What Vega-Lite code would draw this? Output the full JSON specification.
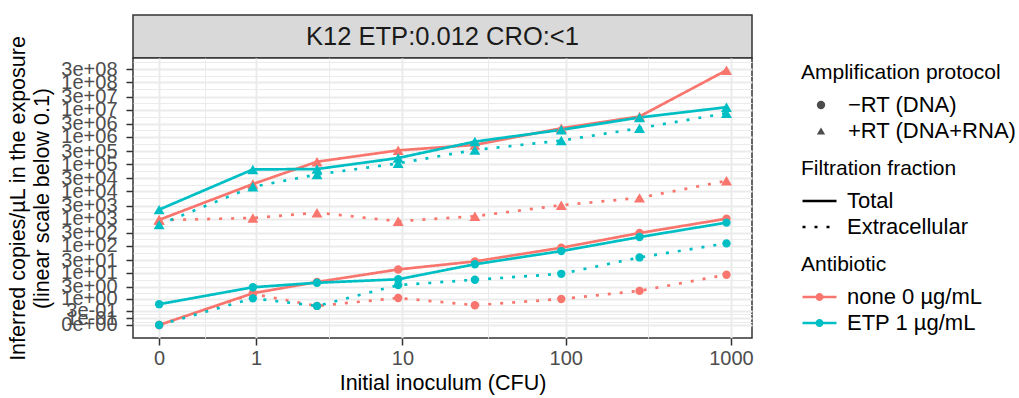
{
  "$schema": "https://vega.github.io/schema/vega-lite/v6.json",
  "background": "white",
  "padding": {"left": 7, "top": 14, "right": 0, "bottom": 0},
  "spacing": 0,
  "bounds": "flush",
  "resolve": {"legend": {"color": "independent", "shape": "independent", "strokeDash": "independent"}},
  "config": {
    "font": "Liberation Sans",
    "view": {"stroke": null},
    "axis": {"titleFontWeight": "normal", "titleColor": "black", "labelColor": "#4D4D4D"},
    "legend": {
      "titleFontWeight": "normal", "titleFontSize": 21, "labelFontSize": 22,
      "titleColor": "black", "labelColor": "black", "offset": 45, "padding": 4,
      "rowPadding": 4, "titlePadding": 13, "clipHeight": 18, "titleLimit": 400, "labelLimit": 400
    }
  },
  "datasets": {
    "d": [
      {"cfu": 0, "copies": 900, "antibiotic": "none 0 µg/mL", "fraction": "Total", "protocol": "+RT (DNA+RNA)"},
      {"cfu": 0.94, "copies": 18400, "antibiotic": "none 0 µg/mL", "fraction": "Total", "protocol": "+RT (DNA+RNA)"},
      {"cfu": 2.8, "copies": 122000, "antibiotic": "none 0 µg/mL", "fraction": "Total", "protocol": "+RT (DNA+RNA)"},
      {"cfu": 9.4, "copies": 318000, "antibiotic": "none 0 µg/mL", "fraction": "Total", "protocol": "+RT (DNA+RNA)"},
      {"cfu": 28, "copies": 504000, "antibiotic": "none 0 µg/mL", "fraction": "Total", "protocol": "+RT (DNA+RNA)"},
      {"cfu": 94, "copies": 2060000, "antibiotic": "none 0 µg/mL", "fraction": "Total", "protocol": "+RT (DNA+RNA)"},
      {"cfu": 280, "copies": 5560000, "antibiotic": "none 0 µg/mL", "fraction": "Total", "protocol": "+RT (DNA+RNA)"},
      {"cfu": 940, "copies": 276000000, "antibiotic": "none 0 µg/mL", "fraction": "Total", "protocol": "+RT (DNA+RNA)"},

      {"cfu": 0, "copies": 880, "antibiotic": "none 0 µg/mL", "fraction": "Extracellular", "protocol": "+RT (DNA+RNA)"},
      {"cfu": 0.94, "copies": 1050, "antibiotic": "none 0 µg/mL", "fraction": "Extracellular", "protocol": "+RT (DNA+RNA)"},
      {"cfu": 2.8, "copies": 1650, "antibiotic": "none 0 µg/mL", "fraction": "Extracellular", "protocol": "+RT (DNA+RNA)"},
      {"cfu": 9.4, "copies": 800, "antibiotic": "none 0 µg/mL", "fraction": "Extracellular", "protocol": "+RT (DNA+RNA)"},
      {"cfu": 28, "copies": 1220, "antibiotic": "none 0 µg/mL", "fraction": "Extracellular", "protocol": "+RT (DNA+RNA)"},
      {"cfu": 94, "copies": 3100, "antibiotic": "none 0 µg/mL", "fraction": "Extracellular", "protocol": "+RT (DNA+RNA)"},
      {"cfu": 280, "copies": 5750, "antibiotic": "none 0 µg/mL", "fraction": "Extracellular", "protocol": "+RT (DNA+RNA)"},
      {"cfu": 940, "copies": 24300, "antibiotic": "none 0 µg/mL", "fraction": "Extracellular", "protocol": "+RT (DNA+RNA)"},

      {"cfu": 0, "copies": 0, "antibiotic": "none 0 µg/mL", "fraction": "Total", "protocol": "−RT (DNA)"},
      {"cfu": 0.94, "copies": 1.7, "antibiotic": "none 0 µg/mL", "fraction": "Total", "protocol": "−RT (DNA)"},
      {"cfu": 2.8, "copies": 4.6, "antibiotic": "none 0 µg/mL", "fraction": "Total", "protocol": "−RT (DNA)"},
      {"cfu": 9.4, "copies": 13.5, "antibiotic": "none 0 µg/mL", "fraction": "Total", "protocol": "−RT (DNA)"},
      {"cfu": 28, "copies": 26.7, "antibiotic": "none 0 µg/mL", "fraction": "Total", "protocol": "−RT (DNA)"},
      {"cfu": 94, "copies": 85, "antibiotic": "none 0 µg/mL", "fraction": "Total", "protocol": "−RT (DNA)"},
      {"cfu": 280, "copies": 295, "antibiotic": "none 0 µg/mL", "fraction": "Total", "protocol": "−RT (DNA)"},
      {"cfu": 940, "copies": 990, "antibiotic": "none 0 µg/mL", "fraction": "Total", "protocol": "−RT (DNA)"},

      {"cfu": 0, "copies": 0, "antibiotic": "none 0 µg/mL", "fraction": "Extracellular", "protocol": "−RT (DNA)"},
      {"cfu": 0.94, "copies": 1.6, "antibiotic": "none 0 µg/mL", "fraction": "Extracellular", "protocol": "−RT (DNA)"},
      {"cfu": 2.8, "copies": 0.5, "antibiotic": "none 0 µg/mL", "fraction": "Extracellular", "protocol": "−RT (DNA)"},
      {"cfu": 9.4, "copies": 1.1, "antibiotic": "none 0 µg/mL", "fraction": "Extracellular", "protocol": "−RT (DNA)"},
      {"cfu": 28, "copies": 0.54, "antibiotic": "none 0 µg/mL", "fraction": "Extracellular", "protocol": "−RT (DNA)"},
      {"cfu": 94, "copies": 1.0, "antibiotic": "none 0 µg/mL", "fraction": "Extracellular", "protocol": "−RT (DNA)"},
      {"cfu": 280, "copies": 2.1, "antibiotic": "none 0 µg/mL", "fraction": "Extracellular", "protocol": "−RT (DNA)"},
      {"cfu": 940, "copies": 8.6, "antibiotic": "none 0 µg/mL", "fraction": "Extracellular", "protocol": "−RT (DNA)"},

      {"cfu": 0, "copies": 2130, "antibiotic": "ETP 1 µg/mL", "fraction": "Total", "protocol": "+RT (DNA+RNA)"},
      {"cfu": 0.94, "copies": 63500, "antibiotic": "ETP 1 µg/mL", "fraction": "Total", "protocol": "+RT (DNA+RNA)"},
      {"cfu": 2.8, "copies": 65700, "antibiotic": "ETP 1 µg/mL", "fraction": "Total", "protocol": "+RT (DNA+RNA)"},
      {"cfu": 9.4, "copies": 167000, "antibiotic": "ETP 1 µg/mL", "fraction": "Total", "protocol": "+RT (DNA+RNA)"},
      {"cfu": 28, "copies": 667000, "antibiotic": "ETP 1 µg/mL", "fraction": "Total", "protocol": "+RT (DNA+RNA)"},
      {"cfu": 94, "copies": 1800000, "antibiotic": "ETP 1 µg/mL", "fraction": "Total", "protocol": "+RT (DNA+RNA)"},
      {"cfu": 280, "copies": 5110000, "antibiotic": "ETP 1 µg/mL", "fraction": "Total", "protocol": "+RT (DNA+RNA)"},
      {"cfu": 940, "copies": 12200000, "antibiotic": "ETP 1 µg/mL", "fraction": "Total", "protocol": "+RT (DNA+RNA)"},

      {"cfu": 0, "copies": 600, "antibiotic": "ETP 1 µg/mL", "fraction": "Extracellular", "protocol": "+RT (DNA+RNA)"},
      {"cfu": 0.94, "copies": 14600, "antibiotic": "ETP 1 µg/mL", "fraction": "Extracellular", "protocol": "+RT (DNA+RNA)"},
      {"cfu": 2.8, "copies": 41500, "antibiotic": "ETP 1 µg/mL", "fraction": "Extracellular", "protocol": "+RT (DNA+RNA)"},
      {"cfu": 9.4, "copies": 106000, "antibiotic": "ETP 1 µg/mL", "fraction": "Extracellular", "protocol": "+RT (DNA+RNA)"},
      {"cfu": 28, "copies": 330000, "antibiotic": "ETP 1 µg/mL", "fraction": "Extracellular", "protocol": "+RT (DNA+RNA)"},
      {"cfu": 94, "copies": 726000, "antibiotic": "ETP 1 µg/mL", "fraction": "Extracellular", "protocol": "+RT (DNA+RNA)"},
      {"cfu": 280, "copies": 2060000, "antibiotic": "ETP 1 µg/mL", "fraction": "Extracellular", "protocol": "+RT (DNA+RNA)"},
      {"cfu": 940, "copies": 7360000, "antibiotic": "ETP 1 µg/mL", "fraction": "Extracellular", "protocol": "+RT (DNA+RNA)"},

      {"cfu": 0, "copies": 0.6, "antibiotic": "ETP 1 µg/mL", "fraction": "Total", "protocol": "−RT (DNA)"},
      {"cfu": 0.94, "copies": 2.9, "antibiotic": "ETP 1 µg/mL", "fraction": "Total", "protocol": "−RT (DNA)"},
      {"cfu": 2.8, "copies": 4.3, "antibiotic": "ETP 1 µg/mL", "fraction": "Total", "protocol": "−RT (DNA)"},
      {"cfu": 9.4, "copies": 5.8, "antibiotic": "ETP 1 µg/mL", "fraction": "Total", "protocol": "−RT (DNA)"},
      {"cfu": 28, "copies": 21, "antibiotic": "ETP 1 µg/mL", "fraction": "Total", "protocol": "−RT (DNA)"},
      {"cfu": 94, "copies": 64, "antibiotic": "ETP 1 µg/mL", "fraction": "Total", "protocol": "−RT (DNA)"},
      {"cfu": 280, "copies": 210, "antibiotic": "ETP 1 µg/mL", "fraction": "Total", "protocol": "−RT (DNA)"},
      {"cfu": 940, "copies": 710, "antibiotic": "ETP 1 µg/mL", "fraction": "Total", "protocol": "−RT (DNA)"},

      {"cfu": 0, "copies": 0, "antibiotic": "ETP 1 µg/mL", "fraction": "Extracellular", "protocol": "−RT (DNA)"},
      {"cfu": 0.94, "copies": 1.06, "antibiotic": "ETP 1 µg/mL", "fraction": "Extracellular", "protocol": "−RT (DNA)"},
      {"cfu": 2.8, "copies": 0.5, "antibiotic": "ETP 1 µg/mL", "fraction": "Extracellular", "protocol": "−RT (DNA)"},
      {"cfu": 9.4, "copies": 3.5, "antibiotic": "ETP 1 µg/mL", "fraction": "Extracellular", "protocol": "−RT (DNA)"},
      {"cfu": 28, "copies": 5.6, "antibiotic": "ETP 1 µg/mL", "fraction": "Extracellular", "protocol": "−RT (DNA)"},
      {"cfu": 94, "copies": 9.3, "antibiotic": "ETP 1 µg/mL", "fraction": "Extracellular", "protocol": "−RT (DNA)"},
      {"cfu": 280, "copies": 37.5, "antibiotic": "ETP 1 µg/mL", "fraction": "Extracellular", "protocol": "−RT (DNA)"},
      {"cfu": 940, "copies": 123, "antibiotic": "ETP 1 µg/mL", "fraction": "Extracellular", "protocol": "−RT (DNA)"}
    ]
  },
  "vconcat": [
    {
      "width": 619,
      "height": 43,
      "view": {"fill": "#D9D9D9", "stroke": "#333333", "strokeWidth": 1.5},
      "data": {"values": [{"label": "K12 ETP:0.012 CRO:<1"}]},
      "mark": {"type": "text", "fontSize": 25.5, "color": "#1A1A1A", "font": "Liberation Sans"},
      "encoding": {"text": {"field": "label"}}
    },
    {
      "width": 619,
      "height": 280,
      "view": {"fill": "white", "stroke": "#333333", "strokeWidth": 1.5},
      "data": {"name": "d"},
      "encoding": {
        "x": {
          "field": "cfu", "type": "quantitative",
          "title": "Initial inoculum (CFU)",
          "scale": {"type": "symlog", "constant": 0.35, "domain": [-0.1535, 1341], "nice": false, "zero": false},
          "axis": {
            "values": [0, 0.3127, 1, 3.362, 10, 33.54, 100, 314.3, 1000],
            "labelExpr": "indexof([0,1,10,100,1000], datum.value) < 0 ? '' : format(datum.value, 'd')",
            "grid": true, "gridColor": "#EBEBEB",
            "gridWidth": {"condition": {"test": "indexof([0,1,10,100,1000], datum.value) < 0", "value": 1}, "value": 2},
            "tickOpacity": {"condition": {"test": "indexof([0,1,10,100,1000], datum.value) < 0", "value": 0}, "value": 1},
            "domain": false, "tickColor": "#333333", "tickWidth": 1.5, "tickSize": 7,
            "labelFontSize": 20, "labelPadding": 3, "labelFlush": false, "labelOverlap": false,
            "titleFontSize": 21.5, "titlePadding": 4
          }
        },
        "y": {
          "field": "copies", "type": "quantitative",
          "title": ["Inferred copies/µL in the exposure", "(linear scale below 0.1)"],
          "scale": {"type": "symlog", "constant": 0.125, "domain": [-0.25, 776700000], "nice": false, "zero": false},
          "axis": {
            "values": [0, 0.0427, 0.1, 0.184, 0.3, 0.5665, 1, 1.75, 3, 5.5, 10, 17.3, 30, 54.8, 100, 173, 300, 548, 1000, 1730, 3000, 5477, 10000, 17320, 30000, 54772, 100000, 173205, 300000, 547723, 1000000, 1732051, 3000000, 5477226, 10000000, 17320508, 30000000, 54772256, 100000000, 173205081, 300000000, 547722558],
            "labelExpr": "indexof([0,0.1,0.3,1,3,10,30,100,300,1000,3000,10000,30000,100000,300000,1000000,3000000,10000000,30000000,100000000,300000000], datum.value) < 0 ? '' : slice(format(datum.value, '.0e'), 0, 3) + '0' + slice(format(datum.value, '.0e'), 3)",
            "grid": true, "gridColor": "#EBEBEB",
            "gridWidth": {"condition": {"test": "indexof([0,0.1,0.3,1,3,10,30,100,300,1000,3000,10000,30000,100000,300000,1000000,3000000,10000000,30000000,100000000,300000000], datum.value) < 0", "value": 1}, "value": 2},
            "tickOpacity": {"condition": {"test": "indexof([0,0.1,0.3,1,3,10,30,100,300,1000,3000,10000,30000,100000,300000,1000000,3000000,10000000,30000000,100000000,300000000], datum.value) < 0", "value": 0}, "value": 1},
            "domain": false, "tickColor": "#333333", "tickWidth": 1.5, "tickSize": 7,
            "labelFontSize": 20, "labelPadding": 9, "labelOverlap": false, "labelFlush": false,
            "titleFontSize": 21.5, "titlePadding": 7, "titleLineHeight": 24
          }
        }
      },
      "layer": [
        {
          "transform": [{"filter": "false"}],
          "mark": {"type": "point", "filled": true, "color": "black"},
          "encoding": {
            "shape": {
              "field": "protocol", "type": "nominal",
              "scale": {"domain": ["−RT (DNA)", "+RT (DNA+RNA)"], "range": ["circle", "triangle-up"]},
              "legend": {"title": "Amplification protocol", "symbolSize": 70, "symbolFillColor": "black", "symbolStrokeColor": "black", "symbolStrokeWidth": 0, "symbolOffset": 9, "labelOffset": 16}
            }
          }
        },
        {
          "transform": [{"filter": "false"}],
          "mark": {"type": "line", "color": "black"},
          "encoding": {
            "strokeDash": {
              "field": "fraction", "type": "nominal",
              "scale": {"domain": ["Total", "Extracellular"], "range": [[1, 0], [3, 9]]},
              "legend": {"title": "Filtration fraction", "symbolType": "stroke", "symbolSize": 1156, "symbolStrokeColor": "black", "symbolStrokeWidth": 2.6, "labelOffset": 9}
            }
          }
        },
        {
          "mark": {"type": "line", "strokeWidth": 2.7},
          "encoding": {
            "color": {
              "field": "antibiotic", "type": "nominal",
              "scale": {"domain": ["none 0 µg/mL", "ETP 1 µg/mL"], "range": ["#F8766D", "#00BFC4"]},
              "legend": {"title": "Antibiotic", "symbolType": "M-1,0L1,0M0.16,0A0.16,0.16,0,1,1,-0.16,0A0.16,0.16,0,1,1,0.16,0Z", "symbolSize": 1156, "symbolStrokeWidth": 2.6, "labelOffset": 9}
            },
            "strokeDash": {"field": "fraction", "type": "nominal", "legend": null},
            "detail": {"field": "protocol"}
          }
        },
        {
          "mark": {"type": "point", "filled": true, "opacity": 1},
          "encoding": {
            "color": {
              "field": "antibiotic", "type": "nominal",
              "legend": {"title": "Antibiotic", "symbolType": "M-1,0L1,0M0.16,0A0.16,0.16,0,1,1,-0.16,0A0.16,0.16,0,1,1,0.16,0Z", "symbolSize": 1156, "symbolStrokeWidth": 2.6, "labelOffset": 9}
            },
            "shape": {"field": "protocol", "type": "nominal", "legend": null},
            "size": {"field": "protocol", "type": "ordinal", "scale": {"domain": ["−RT (DNA)", "+RT (DNA+RNA)"], "range": [70, 120]}, "legend": null}
          }
        }
      ]
    }
  ]
}
